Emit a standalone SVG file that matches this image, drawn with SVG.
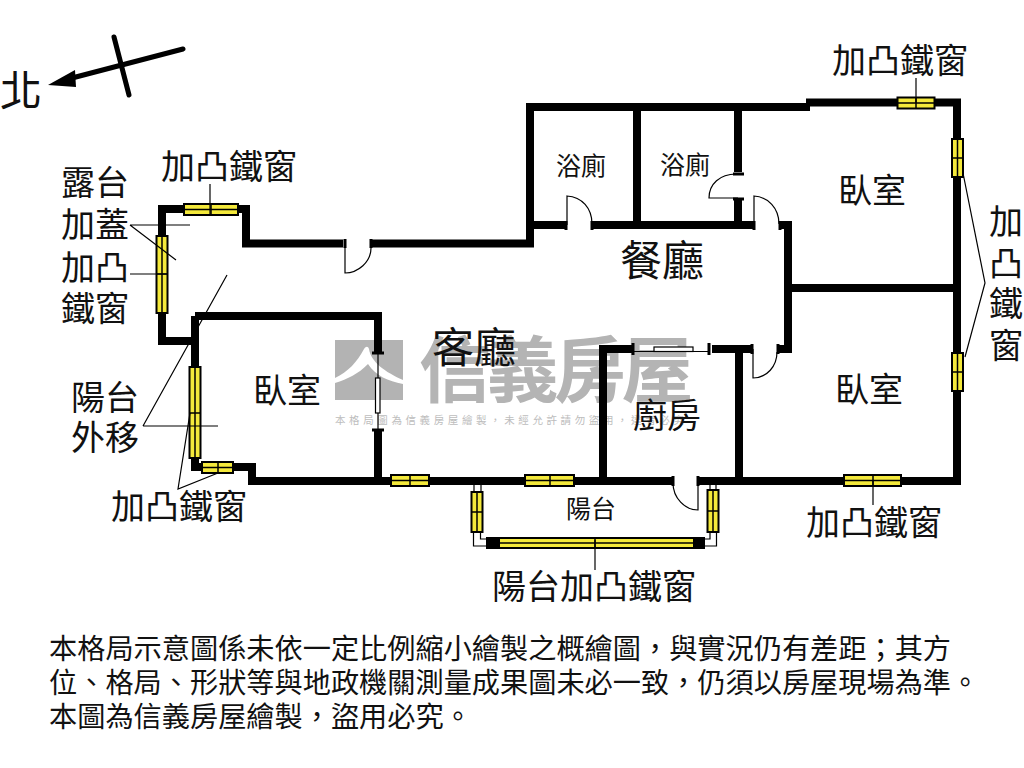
<svg xmlns="http://www.w3.org/2000/svg" width="1024" height="768" viewBox="0 0 1024 768">
<style>
text{font-family:"Noto Sans CJK TC","Noto Sans CJK JP","Liberation Serif",sans-serif;fill:#111}
.s25{font-size:25px}.s33{font-size:34px}.s42{font-size:42px}.body{font-size:28.2px}
.wall{fill:none;stroke:#000;stroke-width:8;stroke-linejoin:miter;stroke-linecap:butt}
.win rect{fill:#f4e93b;stroke:#000;stroke-width:2}
.win path{fill:none;stroke:#000;stroke-width:1.5}
.thin{fill:none;stroke:#000;stroke-width:1.2}
.jamb{fill:none;stroke:#000;stroke-width:3}
.glass{fill:#fff;stroke:#000;stroke-width:1.2}
</style>
<rect width="1024" height="768" fill="#fff"/>

<g id="watermark">
<rect x="335" y="340" width="68" height="60" fill="#b3b3b3"/>
<path d="M335 378C348 372 357 362 364 349C366 346 368 346 369 349C371 362 385 372 403 380V384C388 381 376 376 368 364C358 374 348 379 335 383Z" fill="#fff"/>
<text x="419" y="396" font-size="72" font-weight="700" letter-spacing="-4.500" style="fill:#b4b4b4">信義房屋</text>
<text x="335" y="424" font-size="10.500" letter-spacing="3.600" style="fill:#bdbdbd">本格局圖為信義房屋繪製，未經允許請勿盜用，違者必究</text>
</g>

<g id="walls">
<path class="wall" d="M162 313V209H246V243.500H343M371 243.500H530V107H810M806 102.500H957V485M637 107V225M738 107V172M738 200V225M530 225H565M592 225H753M781 225H788V349H778M752 349H712M633 349H603V481M739 345V481M788 288H957M698 481H961M162 313V341H199M195 316H378V353M378 430V485M195 316V467H252V481H672"/>
</g>

<g id="windows">
<g class="win" id="win-terrace-top"><rect x="184" y="204" width="54" height="11"/><path d="M184 209.500H238M211 204V215"/></g>
<g class="win" id="win-terrace-side"><rect x="156.500" y="236" width="11" height="77"/><path d="M162 236V313M156.500 274H167.500"/></g>
<g class="win" id="win-bedroom-west"><rect x="189.500" y="367" width="11" height="91"/><path d="M195 367V458M189.500 413H200.500"/></g>
<g class="win" id="win-bedroom-south"><rect x="202" y="462" width="31" height="11"/><path d="M202 467.500H233M218 462V473"/></g>
<g class="win" id="win-living-1"><rect x="391" y="475" width="38" height="11"/><path d="M391 480.500H429M410 475V486"/></g>
<g class="win" id="win-living-2"><rect x="525" y="475" width="49" height="11"/><path d="M525 480.500H574M550 475V486"/></g>
<g class="win" id="win-bedroom-se"><rect x="844" y="475" width="57" height="11"/><path d="M844 480.500H901M873 475V486"/></g>
<g class="win" id="win-bedroom-ne"><rect x="897.500" y="97.500" width="37" height="11"/><path d="M897.500 103H934.500M916 97.500V108.500"/></g>
<g class="win" id="win-east-1"><rect x="952" y="139" width="11" height="38"/><path d="M957.500 139V177M952 158H963"/></g>
<g class="win" id="win-east-2"><rect x="952" y="353" width="11" height="38"/><path d="M957.500 353V391M952 372H963"/></g>
<g class="win" id="win-balcony-w"><rect x="471.500" y="492" width="11" height="40"/><path d="M477 492V532M471.500 512H482.500"/></g>
<g class="win" id="win-balcony-e"><rect x="707.500" y="490" width="11" height="42"/><path d="M713 490V532M707.500 511H718.500"/></g>
<g id="win-balcony-long">
<rect x="486" y="537" width="219" height="12" fill="#000"/>
<g class="win"><rect x="499" y="538" width="195" height="10"/><path d="M499 543H694M595 538V548"/></g>
</g>
<g id="balcony-rails">
<path class="thin" d="M474 485V492M481 485V492M473.500 532V546H486M480.500 532V539H486"/>
<path class="thin" d="M710 485V490M716 485V490M716.500 532V546H705M710 532V539H705"/>
</g>
<g id="thin-win-west">
<path class="jamb" d="M372 353H384M372 430H384"/>
<path class="thin" d="M378 353V430"/>
<rect class="glass" x="375.500" y="378" width="4.500" height="35"/>
</g>
<g id="thin-win-kitchen">
<path class="jamb" d="M633 343V355M709 343V355"/>
<path class="thin" d="M633 351.500H709"/>
<rect class="glass" x="654" y="347" width="39" height="4.500"/>
</g>
</g>

<g id="doors">
<g id="door-entry"><path class="jamb" d="M345 239V248M371 239V248"/><path class="thin" d="M345 244V273C358 273 371 262 371 248"/></g>
<g id="door-bath-1"><path class="jamb" d="M566 221V230M592 221V230"/><path class="thin" d="M567 225V196C582 197 592 208 592 224"/></g>
<g id="door-bath-2"><path class="jamb" d="M733 174H744M733 199H744"/><path class="thin" d="M738 198H709C709 184 720 174 736 174"/></g>
<g id="door-bed-ne"><path class="jamb" d="M754 221V230M780 221V230"/><path class="thin" d="M754 225V196C768 197 779 208 779 224"/></g>
<g id="door-bed-se"><path class="jamb" d="M752 344V354M778 344V354"/><path class="thin" d="M753 349V378C767 378 777 366 777 352"/></g>
<g id="door-kitchen"><path class="jamb" d="M673 476V486M698 476V486"/><path class="thin" d="M698 481V510C685 510 673 498 673 483"/></g>
</g>

<g id="connectors">
<path class="thin" d="M210 184V214"/>
<path class="thin" d="M130 225H190M130 225L176 260"/>
<path class="thin" d="M130 274H167"/>
<path class="thin" d="M143 426H218M143 426L227 275"/>
<path class="thin" d="M190 413L178 489L218 473"/>
<path class="thin" d="M916 78V103"/>
<path class="thin" d="M963 173L985 283L965 357"/>
<path class="thin" d="M873 480V505"/>
<path class="thin" d="M595 540V570"/>
</g>

<g id="compass">
<path d="M183 49L72 78" fill="none" stroke="#000" stroke-width="5" stroke-linecap="round"/>
<path d="M114 37L129 95" fill="none" stroke="#000" stroke-width="5" stroke-linecap="round"/>
<path d="M48 85L75 70L76 87Z" fill="#000"/>
<text class="s42" x="0" y="106">北</text>
</g>

<g id="labels">
<text class="s33" x="161" y="179">加凸鐵窗</text>
<text class="s33" x="61" y="195">露台</text>
<text class="s33" x="61" y="237">加蓋</text>
<text class="s33" x="61" y="280">加凸</text>
<text class="s33" x="61" y="321">鐵窗</text>
<text class="s25" x="556" y="175">浴廁</text>
<text class="s25" x="660" y="174">浴廁</text>
<text class="s33" x="838" y="203">臥室</text>
<text class="s42" x="620" y="276">餐廳</text>
<text class="s42" x="432" y="363">客廳</text>
<text class="s33" x="253" y="403">臥室</text>
<text class="s33" x="633" y="428">廚房</text>
<text class="s33" x="835" y="402">臥室</text>
<text class="s25" x="566" y="518">陽台</text>
<text class="s33" x="71" y="410">陽台</text>
<text class="s33" x="71" y="450">外移</text>
<text class="s33" x="111" y="519">加凸鐵窗</text>
<text class="s33" x="806" y="535">加凸鐵窗</text>
<text class="s33" x="492" y="599">陽台加凸鐵窗</text>
<text class="s33" x="832" y="73">加凸鐵窗</text>
<text class="s33" x="989" y="234">加</text>
<text class="s33" x="989" y="276">凸</text>
<text class="s33" x="989" y="316">鐵</text>
<text class="s33" x="989" y="358">窗</text>
</g>

<g id="notes">
<text class="body" x="49" y="659">本格局示意圖係未依一定比例縮小繪製之概繪圖，與實況仍有差距；其方</text>
<text class="body" x="49" y="693">位、格局、形狀等與地政機關測量成果圖未必一致，仍須以房屋現場為準。</text>
<text class="body" x="49" y="727">本圖為信義房屋繪製，盜用必究。</text>
</g>
</svg>
